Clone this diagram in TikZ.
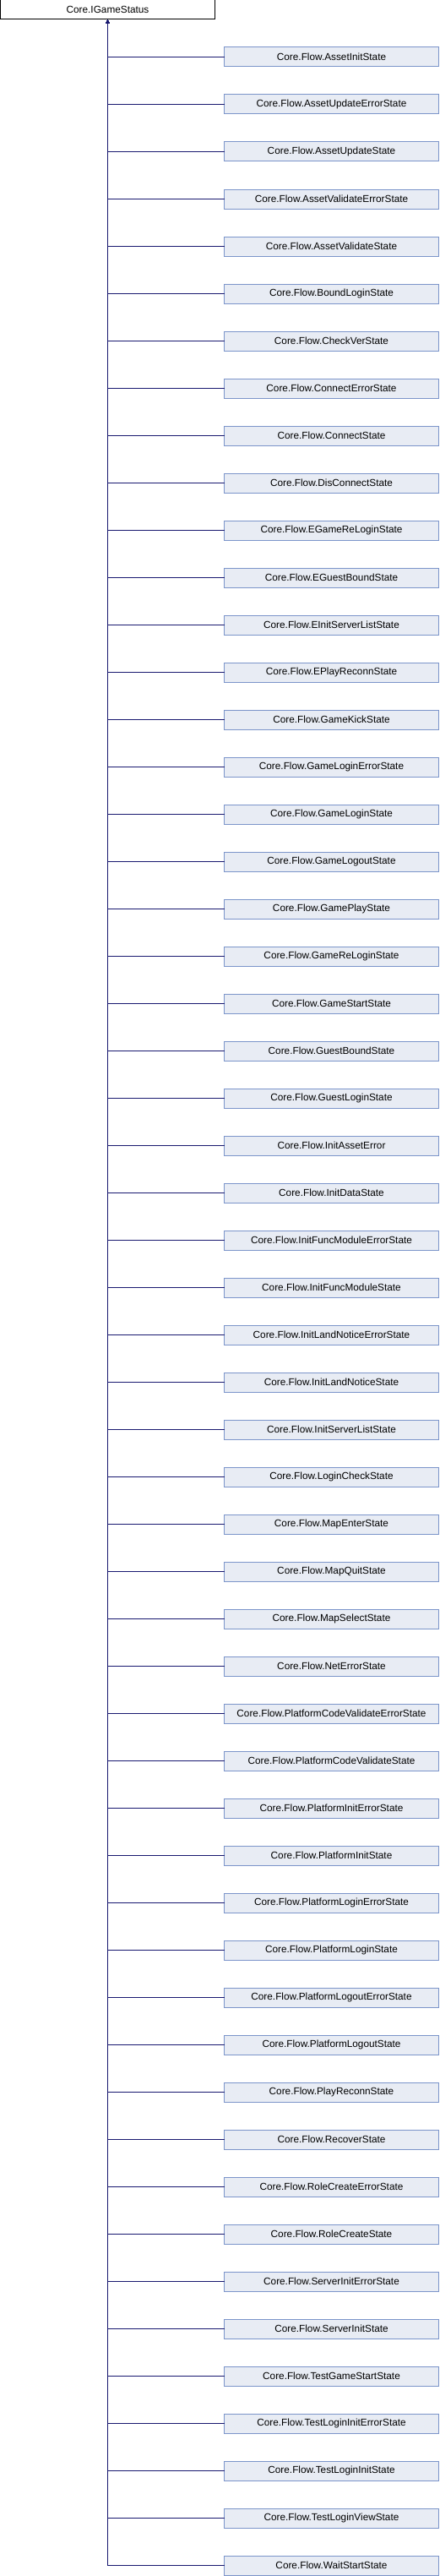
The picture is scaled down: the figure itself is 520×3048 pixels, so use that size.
\documentclass[tikz,border=0pt]{standalone}
\usepackage{fontspec}
\setmainfont{Liberation Sans}
\usepackage{xcolor}
\usetikzlibrary{arrows.meta, positioning}

\definecolor{edgeblue}{HTML}{191970}
\definecolor{boxfill}{HTML}{E8ECF4}
\definecolor{boxline}{HTML}{7C95CA}

\tikzset{
  classbox/.style={draw=boxline, fill=boxfill, line width=1pt, minimum width=254pt, minimum height=23pt, inner sep=0pt, outer sep=0pt, font=\fontsize{11.8}{14}\selectfont},
  basebox/.style={classbox, draw=black, fill=white},
  inherit/.style={draw=edgeblue, line width=1.2pt, -{Triangle[width=4.5pt,length=5pt]}}
}

\begin{document}
\begin{tikzpicture}[x=1pt, y=-1pt]
  \useasboundingbox (0,0) rectangle (520,3048);
  \node[basebox] (base) at (127.5, 11.5) {Core.IGameStatus};
  \foreach \cls [count=\i] in {AssetInitState, AssetUpdateErrorState, AssetUpdateState,
      AssetValidateErrorState, AssetValidateState, BoundLoginState, CheckVerState,
      ConnectErrorState, ConnectState, DisConnectState, EGameReLoginState,
      EGuestBoundState, EInitServerListState, EPlayReconnState, GameKickState,
      GameLoginErrorState, GameLoginState, GameLogoutState, GamePlayState,
      GameReLoginState, GameStartState, GuestBoundState, GuestLoginState,
      InitAssetError, InitDataState, InitFuncModuleErrorState, InitFuncModuleState,
      InitLandNoticeErrorState, InitLandNoticeState, InitServerListState,
      LoginCheckState, MapEnterState, MapQuitState, MapSelectState, NetErrorState,
      PlatformCodeValidateErrorState, PlatformCodeValidateState,
      PlatformInitErrorState, PlatformInitState, PlatformLoginErrorState,
      PlatformLoginState, PlatformLogoutErrorState, PlatformLogoutState,
      PlayReconnState, RecoverState, RoleCreateErrorState, RoleCreateState,
      ServerInitErrorState, ServerInitState, TestGameStartState,
      TestLoginInitErrorState, TestLoginInitState, TestLoginViewState,
      WaitStartState}
  {
    \node[classbox] (c\i) at (392.5, 56*\i+11.5) {Core.Flow.\cls};
    \draw[inherit] (c\i.west) -| (base.south);
  }
\end{tikzpicture}
\end{document}
